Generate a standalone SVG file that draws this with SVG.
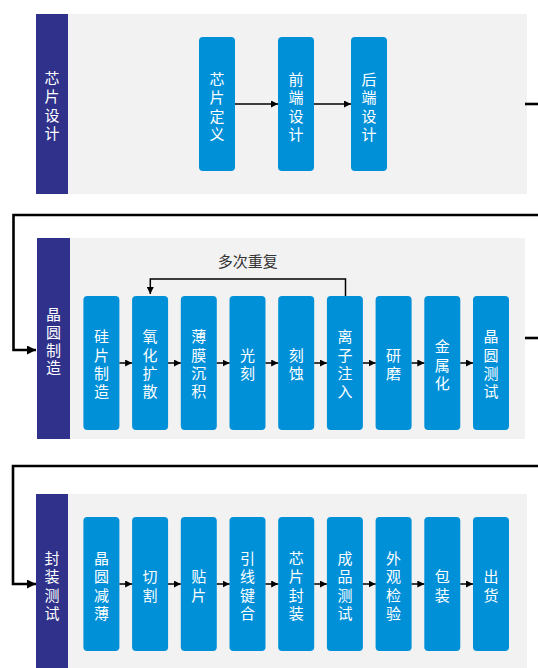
<svg xmlns="http://www.w3.org/2000/svg" width="538" height="668" viewBox="0 0 538 668">
<style>
.bg{fill:#f2f2f2}
.side{fill:#2f318a}
.node{fill:#0090d8}
.t{font-family:"Noto Sans CJK SC","Noto Sans",sans-serif;font-size:15px;fill:#ffffff;text-anchor:middle;writing-mode:vertical-rl;text-orientation:upright;letter-spacing:3.3px}
.s2{letter-spacing:2.6px}
.lbl{font-family:"Noto Sans CJK SC","Noto Sans",sans-serif;font-size:15px;fill:#333333;text-anchor:middle;dominant-baseline:central}
.thick{fill:none;stroke:#000;stroke-width:2.6}
.thin{fill:none;stroke:#000;stroke-width:1.5}
</style>
<defs>
<marker id="ah" markerUnits="userSpaceOnUse" markerWidth="9" markerHeight="9" refX="9" refY="4.5" orient="auto"><path d="M0,0 L9,4.5 L0,9 z" fill="#000"/></marker>
<marker id="as" markerUnits="userSpaceOnUse" markerWidth="7" markerHeight="7" refX="7" refY="3.5" orient="auto"><path d="M0,0 L7,3.5 L0,7 z" fill="#000"/></marker>
</defs>

<g id="sec1">
<rect class="bg" x="68" y="14" width="459" height="180"/>
<rect class="side" x="36" y="14" width="32" height="180"/>
<text class="t" x="52" y="107.6">芯片设计</text>
</g>
<g id="sec2">
<rect class="bg" x="70" y="238" width="455" height="201"/>
<rect class="side" x="37" y="238" width="33" height="201"/>
<text class="t s2" x="53.5" y="342.5">晶圆制造</text>
</g>
<g id="sec3">
<rect class="bg" x="68" y="494" width="459" height="174"/>
<rect class="side" x="36" y="494" width="32" height="174"/>
<text class="t" x="52" y="587.6">封装测试</text>
</g>

<g id="n1a"><rect class="node" x="199" y="37" width="36" height="134" rx="4"/><text class="t" x="217" y="108.4">芯片定义</text></g>
<g id="n1b"><rect class="node" x="278" y="37" width="36" height="134" rx="4"/><text class="t" x="296" y="108.4">前端设计</text></g>
<g id="n1c"><rect class="node" x="351" y="37" width="36" height="134" rx="4"/><text class="t" x="369" y="108.4">后端设计</text></g>

<g id="n2a"><rect class="node" x="83.4" y="296" width="36" height="134" rx="4"/><text class="t" x="101.4" y="365.9">硅片制造</text></g>
<g id="n2b"><rect class="node" x="132.1" y="296" width="36" height="134" rx="4"/><text class="t" x="150.1" y="365.9">氧化扩散</text></g>
<g id="n2c"><rect class="node" x="180.8" y="296" width="36" height="134" rx="4"/><text class="t" x="198.8" y="365.9">薄膜沉积</text></g>
<g id="n2d"><rect class="node" x="229.5" y="296" width="36" height="134" rx="4"/><text class="t" x="247.5" y="365.7">光刻</text></g>
<g id="n2e"><rect class="node" x="278.2" y="296" width="36" height="134" rx="4"/><text class="t" x="296.2" y="365.7">刻蚀</text></g>
<g id="n2f"><rect class="node" x="326.9" y="296" width="36" height="134" rx="4"/><text class="t" x="344.9" y="365.9">离子注入</text></g>
<g id="n2g"><rect class="node" x="375.6" y="296" width="36" height="134" rx="4"/><text class="t" x="393.6" y="365.7">研磨</text></g>
<g id="n2h"><rect class="node" x="424.3" y="296" width="36" height="134" rx="4"/><text class="t" x="442.3" y="366.6">金属化</text></g>
<g id="n2i"><rect class="node" x="473" y="296" width="36" height="134" rx="4"/><text class="t" x="491" y="365.9">晶圆测试</text></g>

<g id="n3a"><rect class="node" x="83.4" y="517" width="36" height="134" rx="4"/><text class="t" x="101.4" y="587.4">晶圆减薄</text></g>
<g id="n3b"><rect class="node" x="132.1" y="517" width="36" height="134" rx="4"/><text class="t" x="150.1" y="587.4">切割</text></g>
<g id="n3c"><rect class="node" x="180.8" y="517" width="36" height="134" rx="4"/><text class="t" x="198.8" y="587.4">贴片</text></g>
<g id="n3d"><rect class="node" x="229.5" y="517" width="36" height="134" rx="4"/><text class="t" x="247.5" y="587.4">引线键合</text></g>
<g id="n3e"><rect class="node" x="278.2" y="517" width="36" height="134" rx="4"/><text class="t" x="296.2" y="587.4">芯片封装</text></g>
<g id="n3f"><rect class="node" x="326.9" y="517" width="36" height="134" rx="4"/><text class="t" x="344.9" y="587.4">成品测试</text></g>
<g id="n3g"><rect class="node" x="375.6" y="517" width="36" height="134" rx="4"/><text class="t" x="393.6" y="587.4">外观检验</text></g>
<g id="n3h"><rect class="node" x="424.3" y="517" width="36" height="134" rx="4"/><text class="t" x="442.3" y="587.4">包装</text></g>
<g id="n3i"><rect class="node" x="473" y="517" width="36" height="134" rx="4"/><text class="t" x="491" y="587.4">出货</text></g>

<text class="lbl" x="247.7" y="260">多次重复</text>

<g id="connectors">
<path class="thin" marker-end="url(#as)" d="M235,104 H278"/>
<path class="thin" marker-end="url(#as)" d="M314,104 H351"/>
<path class="thick" d="M525,104 H540"/>
<path class="thick" marker-end="url(#ah)" d="M540,215 H13.5 V350 H36"/>
<path class="thin" marker-end="url(#as)" d="M119.4,363 H132.1"/>
<path class="thin" marker-end="url(#as)" d="M168.1,363 H180.8"/>
<path class="thin" marker-end="url(#as)" d="M216.8,363 H229.5"/>
<path class="thin" marker-end="url(#as)" d="M265.5,363 H278.2"/>
<path class="thin" marker-end="url(#as)" d="M314.2,363 H326.9"/>
<path class="thin" marker-end="url(#as)" d="M362.9,363 H375.6"/>
<path class="thin" marker-end="url(#as)" d="M411.6,363 H424.3"/>
<path class="thin" marker-end="url(#as)" d="M460.3,363 H473"/>
<path class="thin" marker-end="url(#as)" d="M345.5,296 V279 H150.3 V294"/>
<path class="thick" d="M525,338 H540"/>
<path class="thick" marker-end="url(#ah)" d="M540,466 H13 V584 H36"/>
<path class="thin" marker-end="url(#as)" d="M119.4,584 H132.1"/>
<path class="thin" marker-end="url(#as)" d="M168.1,584 H180.8"/>
<path class="thin" marker-end="url(#as)" d="M216.8,584 H229.5"/>
<path class="thin" marker-end="url(#as)" d="M265.5,584 H278.2"/>
<path class="thin" marker-end="url(#as)" d="M314.2,584 H326.9"/>
<path class="thin" marker-end="url(#as)" d="M362.9,584 H375.6"/>
<path class="thin" marker-end="url(#as)" d="M411.6,584 H424.3"/>
<path class="thin" marker-end="url(#as)" d="M460.3,584 H473"/>
</g>
</svg>
